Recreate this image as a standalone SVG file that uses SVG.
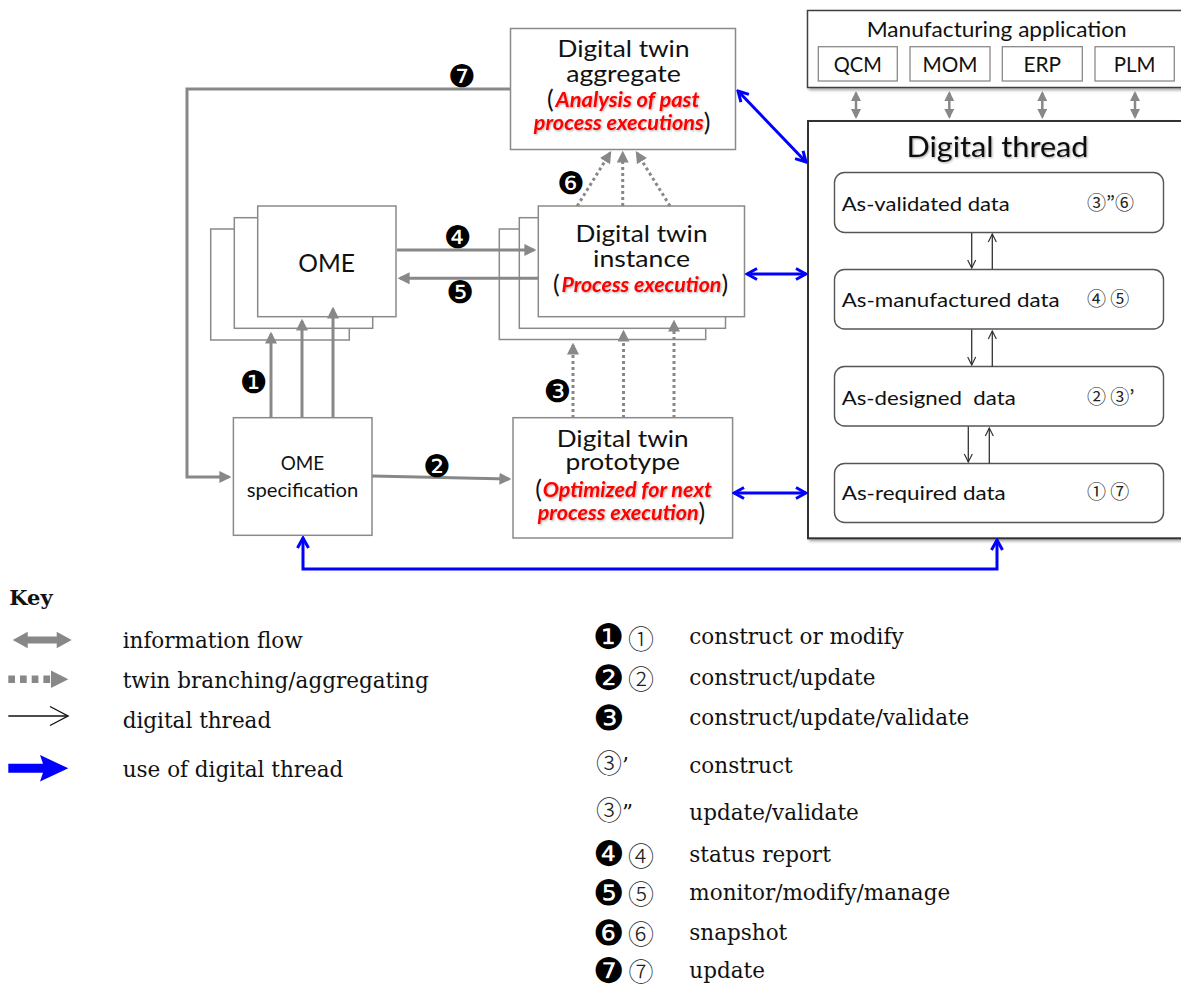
<svg xmlns="http://www.w3.org/2000/svg" width="1181" height="985" viewBox="0 0 1181 985">
<style>
.bx{fill:#fff;stroke:#8a8a8a;stroke-width:1.5}
.sb{fill:#fff;stroke:#8a8a8a;stroke-width:1.3}
.db{fill:#fff;stroke:#555;stroke-width:1.4}
.t{font-family:Lato,"Open Sans","Liberation Sans",sans-serif;fill:#111}
.rd{font-family:Lato,"Open Sans","Liberation Sans",sans-serif;fill:#ff0000;font-weight:bold;font-style:italic;font-size:20px}
.pa{font-family:Lato,"Open Sans","Liberation Sans",sans-serif;fill:#111;font-size:25px}
.g{fill:none;stroke:#888;stroke-width:3}
.gd{fill:none;stroke:#888;stroke-width:3;stroke-dasharray:3 3}
.b{fill:none;stroke:#0000ff;stroke-width:3}
.k{fill:none;stroke:#333;stroke-width:1.3}
.bd{font-family:"DejaVu Sans",sans-serif;fill:#000}
.ks{font-family:"DejaVu Serif","Noto Sans CJK JP",serif;font-size:21.5px;fill:#111}
.cn{font-family:"Noto Sans CJK JP","DejaVu Sans",sans-serif;fill:#222}
</style>
<defs>
<marker id="gh" viewBox="0 0 10 10" refX="8" refY="5" markerWidth="4" markerHeight="4" orient="auto-start-reverse"><path d="M0,0 L10,5 L0,10 z" fill="#888"/></marker>
<marker id="bh" viewBox="0 0 14 14" refX="12" refY="7" markerWidth="14" markerHeight="14" markerUnits="userSpaceOnUse" orient="auto-start-reverse"><path d="M2,1.5 L12,7 L2,12.5" fill="none" stroke="#0000ff" stroke-width="3"/></marker>
<marker id="kh" viewBox="0 0 10 10" refX="9" refY="5" markerWidth="10" markerHeight="10" markerUnits="userSpaceOnUse" orient="auto"><path d="M1,1 L9,5 L1,9" fill="none" stroke="#333" stroke-width="1.2"/></marker>
<filter id="sh" x="-5%" y="-5%" width="115%" height="115%"><feDropShadow dx="2" dy="2" stdDeviation="1.5" flood-color="#000" flood-opacity="0.35"/></filter>
<filter id="ts" x="-5%" y="-30%" width="115%" height="170%"><feDropShadow dx="1" dy="1" stdDeviation="1" flood-color="#000" flood-opacity="0.35"/></filter>
</defs>
<rect width="1181" height="985" fill="#fff"/>

<g id="aggregate">
<rect class="bx" x="510.5" y="28.5" width="225" height="121"/>
<text class="t" x="623.5" y="56.7" font-size="24" text-anchor="middle" textLength="132" lengthAdjust="spacingAndGlyphs">Digital twin</text>
<text class="t" x="623.5" y="81.7" font-size="24" text-anchor="middle" textLength="114.6" lengthAdjust="spacingAndGlyphs">aggregate</text>
<text class="pa" x="547" y="108">(</text>
<text class="rd" x="555.5" y="106.7" textLength="144" lengthAdjust="spacingAndGlyphs" filter="url(#ts)">Analysis of past</text>
<text class="rd" x="533.8" y="130" textLength="170" lengthAdjust="spacingAndGlyphs" filter="url(#ts)">process executions</text>
<text class="pa" x="703.7" y="131">)</text>
</g>

<g id="instance">
<rect class="bx" x="499.3" y="229" width="206.4" height="110.5"/>
<rect class="bx" x="519.3" y="217.7" width="206.2" height="110.6"/>
<rect class="bx" x="538.3" y="206" width="206.2" height="110.7"/>
<text class="t" x="641.5" y="241.7" font-size="24" text-anchor="middle" textLength="132" lengthAdjust="spacingAndGlyphs">Digital twin</text>
<text class="t" x="641.5" y="266.7" font-size="24" text-anchor="middle" textLength="97" lengthAdjust="spacingAndGlyphs">instance</text>
<text class="pa" x="553" y="292.5">(</text>
<text class="rd" x="561.4" y="291.7" textLength="160" lengthAdjust="spacingAndGlyphs" filter="url(#ts)">Process execution</text>
<text class="pa" x="721.5" y="292.5">)</text>
</g>

<g id="ome">
<rect class="bx" x="210.7" y="229" width="138.6" height="111"/>
<rect class="bx" x="234.3" y="217.7" width="138.4" height="110.6"/>
<rect class="bx" x="257.7" y="206" width="138.3" height="110.7"/>
<text class="t" x="326.7" y="271.7" font-size="25" text-anchor="middle" textLength="56.7" lengthAdjust="spacingAndGlyphs">OME</text>
</g>

<g id="ome-specification">
<rect class="bx" x="233.4" y="417.7" width="138.6" height="117.6"/>
<text class="t" x="302.5" y="470" font-size="19.5" text-anchor="middle" textLength="43.5" lengthAdjust="spacingAndGlyphs">OME</text>
<text class="t" x="302.5" y="496.7" font-size="19.5" text-anchor="middle" textLength="111.5" lengthAdjust="spacingAndGlyphs">specification</text>
</g>

<g id="prototype">
<rect class="bx" x="513" y="417.7" width="219.6" height="120.3"/>
<text class="t" x="622.7" y="446.7" font-size="24" text-anchor="middle" textLength="132" lengthAdjust="spacingAndGlyphs">Digital twin</text>
<text class="t" x="622.7" y="470" font-size="24" text-anchor="middle" textLength="114.6" lengthAdjust="spacingAndGlyphs">prototype</text>
<text class="pa" x="535.2" y="497.5">(</text>
<text class="rd" x="542.8" y="496.7" textLength="169" lengthAdjust="spacingAndGlyphs" filter="url(#ts)">Optimized for next</text>
<text class="rd" x="537.7" y="520" textLength="161" lengthAdjust="spacingAndGlyphs" filter="url(#ts)">process execution</text>
<text class="pa" x="698.6" y="521">)</text>
</g>

<g id="manufacturing-application">
<rect x="807.5" y="10.5" width="380" height="77" fill="#fff" stroke="#404040" stroke-width="1.5" filter="url(#sh)"/>
<text class="t" x="996.7" y="37.3" font-size="21" text-anchor="middle" textLength="260" lengthAdjust="spacingAndGlyphs">Manufacturing application</text>
<rect class="sb" x="818.3" y="46.7" width="79" height="34.3"/>
<rect class="sb" x="910" y="46.7" width="80" height="34.3"/>
<rect class="sb" x="1002.3" y="46.7" width="80" height="34.3"/>
<rect class="sb" x="1095" y="46.7" width="79.3" height="34.3"/>
<text class="t" x="857.8" y="71.7" font-size="21" text-anchor="middle" textLength="48" lengthAdjust="spacingAndGlyphs">QCM</text>
<text class="t" x="950" y="71.7" font-size="21" text-anchor="middle" textLength="55" lengthAdjust="spacingAndGlyphs">MOM</text>
<text class="t" x="1042.3" y="71.7" font-size="21" text-anchor="middle" textLength="37.7" lengthAdjust="spacingAndGlyphs">ERP</text>
<text class="t" x="1134.7" y="71.7" font-size="21" text-anchor="middle" textLength="41.7" lengthAdjust="spacingAndGlyphs">PLM</text>
</g>

<g id="digital-thread">
<rect x="808" y="121" width="380" height="417.3" fill="#fff" stroke="#333" stroke-width="2" filter="url(#sh)"/>
<text class="t" x="997.5" y="156.7" font-size="29.5" text-anchor="middle" textLength="182" lengthAdjust="spacingAndGlyphs" filter="url(#ts)">Digital thread</text>
<g id="as-validated">
<rect class="db" x="834.5" y="172.5" width="329" height="60" rx="10"/>
<text class="t" x="841.7" y="210.7" font-size="20" textLength="168" lengthAdjust="spacingAndGlyphs">As-validated data</text>
<text class="cn" x="1087" y="210" font-size="19">③”⑥</text>
</g>
<g id="as-manufactured">
<rect class="db" x="834.5" y="269.5" width="329" height="59.5" rx="10"/>
<text class="t" x="841.7" y="306.7" font-size="20" textLength="218" lengthAdjust="spacingAndGlyphs">As-manufactured data</text>
<text class="cn" x="1087" y="306" font-size="19">④ ⑤</text>
</g>
<g id="as-designed">
<rect class="db" x="834.5" y="366.5" width="329" height="59.5" rx="10"/>
<text class="t" x="841.7" y="405" font-size="20" textLength="174" lengthAdjust="spacingAndGlyphs" xml:space="preserve">As-designed  data</text>
<text class="cn" x="1087" y="404.3" font-size="19">② ③’</text>
</g>
<g id="as-required">
<rect class="db" x="834.5" y="463.5" width="329" height="59" rx="10"/>
<text class="t" x="841.7" y="500" font-size="20" textLength="164" lengthAdjust="spacingAndGlyphs">As-required data</text>
<text class="cn" x="1087" y="499.3" font-size="19">① ⑦</text>
</g>
</g>

<g id="connectors">
<path class="g" d="M510,89 H187 V477 H229" marker-end="url(#gh)"/>
<line class="g" x1="271" y1="418" x2="271" y2="334" marker-end="url(#gh)"/>
<line class="g" x1="302" y1="418" x2="302" y2="321" marker-end="url(#gh)"/>
<line class="g" x1="333" y1="418" x2="333" y2="309" marker-end="url(#gh)"/>
<line class="g" x1="397" y1="250" x2="534" y2="250" marker-end="url(#gh)"/>
<line class="g" x1="538" y1="278.3" x2="400" y2="278.3" marker-end="url(#gh)"/>
<line class="g" x1="372" y1="476" x2="509" y2="479" marker-end="url(#gh)"/>
<line class="gd" x1="573" y1="418" x2="573" y2="345" marker-end="url(#gh)"/>
<line class="gd" x1="623.5" y1="418" x2="623.5" y2="332" marker-end="url(#gh)"/>
<line class="gd" x1="674" y1="418" x2="674" y2="322" marker-end="url(#gh)"/>
<line class="gd" x1="577.2" y1="206" x2="610" y2="153" marker-end="url(#gh)"/>
<line class="gd" x1="622.7" y1="206" x2="622.7" y2="153" marker-end="url(#gh)"/>
<line class="gd" x1="670" y1="206" x2="637" y2="153" marker-end="url(#gh)"/>
<line x1="856" y1="93" x2="856" y2="117" stroke="#888" stroke-width="2.5" marker-start="url(#gh)" marker-end="url(#gh)"/>
<line x1="949.3" y1="93" x2="949.3" y2="117" stroke="#888" stroke-width="2.5" marker-start="url(#gh)" marker-end="url(#gh)"/>
<line x1="1042.3" y1="93" x2="1042.3" y2="117" stroke="#888" stroke-width="2.5" marker-start="url(#gh)" marker-end="url(#gh)"/>
<line x1="1135" y1="93" x2="1135" y2="117" stroke="#888" stroke-width="2.5" marker-start="url(#gh)" marker-end="url(#gh)"/>
<line class="b" x1="738" y1="91" x2="806" y2="162" marker-start="url(#bh)" marker-end="url(#bh)"/>
<line class="b" x1="747" y1="274" x2="806" y2="274" marker-start="url(#bh)" marker-end="url(#bh)"/>
<line class="b" x1="734" y1="493" x2="806" y2="493" marker-start="url(#bh)" marker-end="url(#bh)"/>
<path class="b" d="M303,538 V569 H997 V540" marker-start="url(#bh)" marker-end="url(#bh)"/>
<line class="k" x1="971.7" y1="233" x2="971.7" y2="268" marker-end="url(#kh)"/>
<line class="k" x1="992.3" y1="269" x2="992.3" y2="234" marker-end="url(#kh)"/>
<line class="k" x1="971.7" y1="329.5" x2="971.7" y2="365" marker-end="url(#kh)"/>
<line class="k" x1="992.3" y1="366.5" x2="992.3" y2="331" marker-end="url(#kh)"/>
<line class="k" x1="968.3" y1="426.5" x2="968.3" y2="462" marker-end="url(#kh)"/>
<line class="k" x1="989.3" y1="463.5" x2="989.3" y2="428" marker-end="url(#kh)"/>
</g>

<g id="badges">
<text class="bd" x="462" y="76" font-size="31" text-anchor="middle" dominant-baseline="central">❼</text>
<text class="bd" x="571" y="183" font-size="31" text-anchor="middle" dominant-baseline="central">❻</text>
<text class="bd" x="458" y="237" font-size="31" text-anchor="middle" dominant-baseline="central">❹</text>
<text class="bd" x="460" y="292" font-size="31" text-anchor="middle" dominant-baseline="central">❺</text>
<text class="bd" x="254" y="382" font-size="31" text-anchor="middle" dominant-baseline="central">❶</text>
<text class="bd" x="557.7" y="390.7" font-size="31" text-anchor="middle" dominant-baseline="central">❸</text>
<text class="bd" x="437" y="466" font-size="31" text-anchor="middle" dominant-baseline="central">❷</text>
</g>

<g id="key">
<text x="9.3" y="605" font-family="'DejaVu Serif',serif" font-weight="bold" font-size="21" fill="#111">Key</text>
<polygon points="12.7,640 27.7,631.7 27.7,636.6 56.7,636.6 56.7,631.7 71.7,640 56.7,648.3 56.7,643.4 27.7,643.4 27.7,648.3" fill="#888"/>
<line x1="8.3" y1="679.3" x2="51" y2="679.3" stroke="#888" stroke-width="7.5" stroke-dasharray="6.7 5"/>
<polygon points="51,670.6 68.3,679.3 51,688" fill="#888"/>
<line x1="8.3" y1="716" x2="67.5" y2="716" stroke="#111" stroke-width="1.4"/>
<polyline points="50,706.5 68,716 50,725.5" fill="none" stroke="#111" stroke-width="1.4"/>
<polygon points="8.3,763.8 43,763.8 40,755 68.3,768.3 40,781.6 43,772.8 8.3,772.8" fill="#0000ff"/>
<text class="ks" x="122.7" y="648.3">information flow</text>
<text class="ks" x="122.7" y="688.3">twin branching/aggregating</text>
<text class="ks" x="122.7" y="728.3">digital thread</text>
<text class="ks" x="122.7" y="776.7">use of digital thread</text>

<text class="bd" x="608.8" y="637" font-size="35" text-anchor="middle" dominant-baseline="central">❶</text>
<text class="bd" x="608.8" y="677.5" font-size="35" text-anchor="middle" dominant-baseline="central">❷</text>
<text class="bd" x="608.8" y="717.5" font-size="35" text-anchor="middle" dominant-baseline="central">❸</text>
<text class="bd" x="608.8" y="854.2" font-size="35" text-anchor="middle" dominant-baseline="central">❹</text>
<text class="bd" x="608.8" y="892.5" font-size="35" text-anchor="middle" dominant-baseline="central">❺</text>
<text class="bd" x="608.8" y="932.5" font-size="35" text-anchor="middle" dominant-baseline="central">❻</text>
<text class="bd" x="608.8" y="970.8" font-size="35" text-anchor="middle" dominant-baseline="central">❼</text>
<text class="cn" x="641" y="637" font-size="26" text-anchor="middle" dominant-baseline="central" font-weight="300">①</text>
<text class="cn" x="641" y="677.5" font-size="26" text-anchor="middle" dominant-baseline="central" font-weight="300">②</text>
<text class="cn" x="641" y="854.2" font-size="26" text-anchor="middle" dominant-baseline="central" font-weight="300">④</text>
<text class="cn" x="641" y="892.5" font-size="26" text-anchor="middle" dominant-baseline="central" font-weight="300">⑤</text>
<text class="cn" x="641" y="932.5" font-size="26" text-anchor="middle" dominant-baseline="central" font-weight="300">⑥</text>
<text class="cn" x="641" y="970.3" font-size="25" text-anchor="middle" dominant-baseline="central" font-weight="300">⑦</text>
<text class="ks" x="596" y="773.3"><tspan class="cn" font-size="26" font-weight="300">③</tspan>’</text>
<text class="ks" x="596" y="820"><tspan class="cn" font-size="26" font-weight="300">③</tspan>”</text>
<text class="ks" x="689.3" y="644.3">construct or modify</text>
<text class="ks" x="689.3" y="685">construct/update</text>
<text class="ks" x="689.3" y="725">construct/update/validate</text>
<text class="ks" x="689.3" y="773.3">construct</text>
<text class="ks" x="689.3" y="820">update/validate</text>
<text class="ks" x="689.3" y="861.7">status report</text>
<text class="ks" x="689.3" y="900">monitor/modify/manage</text>
<text class="ks" x="689.3" y="940">snapshot</text>
<text class="ks" x="689.3" y="978.3">update</text>
</g>
</svg>
